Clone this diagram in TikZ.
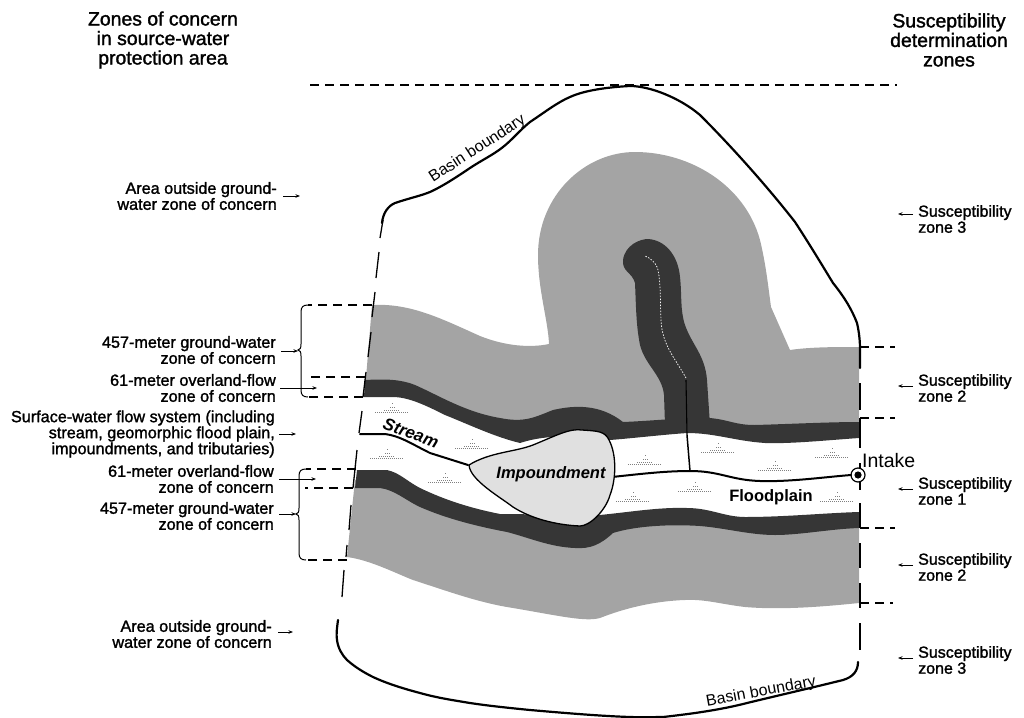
\documentclass[tikz,border=0pt]{standalone}
\usepackage{fontspec}
\setmainfont{Liberation Sans}
\newfontfamily\labf[FakeBold=1.5]{Liberation Sans}
\newfontfamily\boldf{Liberation Sans Bold}
\newfontfamily\boldif{Liberation Sans Bold Italic}
\newfontfamily\thinf{Liberation Sans}
\usetikzlibrary{arrows.meta}
\definecolor{lgray}{HTML}{A4A4A4}
\definecolor{dgray}{HTML}{363636}
\definecolor{igray}{HTML}{E0E0E0}
\tikzset{
 lab/.style={font=\labf\fontsize{16.2}{16}\selectfont,align=right,anchor=east,inner sep=0pt},
 rlab/.style={font=\labf\fontsize{16}{16}\selectfont,align=left,anchor=west,inner sep=0pt},
 head/.style={font=\labf\fontsize{19.4}{19.5}\selectfont,align=center,inner sep=0pt},
 outline/.style={line width=2.2pt,line join=round,line cap=round},
 stream/.style={line width=2pt,line join=round,line cap=round},
 dashln/.style={line width=1.1pt,dash pattern=on 9pt off 6pt},
 edgeln/.style={line width=1.3pt},
 arr/.style={line width=0.8pt,-{Stealth[length=4.5pt,width=3.5pt]}},
 marshln/.style={gray,line width=0.6pt,dash pattern=on 1pt off 1pt},
}
\newcommand{\marsh}[2]{%
 \draw[marshln] (#1-17,#2+2)--(#1+17,#2+2);
 \draw[marshln] (#1-8,#2)--(#1+8,#2);
 \draw[marshln] (#1-2,#2-3)--(#1+3,#2-3);
 \draw[marshln] (#1,#2-7)--(#1+1,#2-7);
}
\begin{document}
\begin{tikzpicture}[x=1pt,y=-1pt]
\useasboundingbox (0,0) rectangle (1024,717);
% upper light-gray zone
\fill[lgray] (372,305) .. controls (410,303) and (440,318) .. (480,336)
 .. controls (505,346) and (530,348) .. (549,344)
 .. controls (548,320) and (538,290) .. (538,255)
 .. controls (538,195) and (585,152) .. (635,152)
 .. controls (690,152) and (745,185) .. (760,240)
 .. controls (766,265) and (768,285) .. (771,307)
 -- (790,350) .. controls (810,347) and (835,347) .. (859,347)
 -- (859,430) -- (623,430) -- (510,425) -- (440,405) -- (400,390) -- (365,390) -- cycle;
% tributary dark band
\fill[dgray] (665,425) -- (664,395) .. controls (662,375) and (645,365) .. (640,345)
 .. controls (636,325) and (636,305) .. (635,283)
 .. controls (632,272) and (622,272) .. (623,260)
 .. controls (625,245) and (640,239) .. (648,239)
 .. controls (665,240) and (678,255) .. (680,277)
 .. controls (682,295) and (680,310) .. (685,325)
 .. controls (692,345) and (705,355) .. (707,380)
 -- (710,425) -- cycle;
% upper dark band
\fill[dgray] (365,380) .. controls (385,379) and (400,379) .. (415,385)
 .. controls (440,396) and (465,412) .. (500,418)
 .. controls (525,423) and (535,417) .. (553,410)
 .. controls (575,405) and (600,404) .. (623,422)
 .. controls (650,421) and (690,417) .. (710,418)
 .. controls (730,420) and (735,425) .. (755,425)
 .. controls (790,424) and (830,422) .. (859,422)
 -- (859,438) .. controls (830,440) and (790,444) .. (765,443)
 .. controls (735,441) and (715,433) .. (687,433)
 .. controls (660,435) and (635,438) .. (610,440)
 .. controls (600,441) and (560,430) .. (520,443)
 .. controls (495,437) and (470,425) .. (445,415)
 .. controls (425,405) and (410,398) .. (395,397)
 -- (364,397) -- cycle;
% lower light-gray zone
\fill[lgray] (355,480) -- (390,480) -- (420,497) -- (507,525) -- (600,525) -- (700,518) -- (859,520) -- (859,603)
 .. controls (820,607) and (780,610) .. (745,607)
 .. controls (720,604) and (705,599) .. (685,600)
 .. controls (655,601) and (625,608) .. (600,618)
 .. controls (585,622) and (560,616) .. (513,608)
 .. controls (480,603) and (450,592) .. (413,580)
 .. controls (395,573) and (370,560) .. (347,557) -- cycle;
% lower dark band
\fill[dgray] (357,470) -- (387,470) .. controls (400,473) and (405,480) .. (420,488)
 .. controls (445,500) and (470,508) .. (500,514)
 -- (600,515) .. controls (630,512) and (660,507) .. (687,508)
 .. controls (710,508) and (725,517) .. (745,517)
 .. controls (785,517) and (825,513) .. (859,512)
 -- (859,528) .. controls (830,529) and (800,535) .. (775,535)
 .. controls (750,535) and (725,528) .. (700,526)
 .. controls (670,524) and (635,526) .. (613,533)
 .. controls (600,545) and (590,549) .. (575,548)
 .. controls (550,547) and (530,538) .. (507,532)
 .. controls (475,526) and (445,518) .. (420,507)
 .. controls (405,500) and (395,490) .. (380,488)
 -- (355,488) -- cycle;
% streams
\draw[stream] (360,434) -- (385,434) .. controls (400,436) and (410,443) .. (430,453) -- (468,465);
\draw[stream] (612,477) .. controls (640,474) and (665,471) .. (690,471)
 .. controls (720,471) and (730,480) .. (760,481)
 .. controls (790,482) and (825,477) .. (851,475);
\draw[line width=1.5pt] (687,435) -- (690,471);
\draw[line width=1.1pt] (686,380) -- (687,435);
\draw[white,line width=0.7pt,dash pattern=on 1.5pt off 1.5pt] (686,378)
 .. controls (675,358) and (662,345) .. (661,320)
 .. controls (660,300) and (661,285) .. (658,270)
 .. controls (656,262) and (650,258) .. (645,256);
% impoundment
\filldraw[fill=igray,draw=black,line width=1.3pt,line join=round] (469,465)
 .. controls (490,452) and (515,452) .. (533,445)
 .. controls (555,436) and (570,428) .. (582,430)
 .. controls (597,431) and (605,431) .. (609,440)
 .. controls (617,455) and (616,480) .. (610,495)
 .. controls (606,510) and (590,526) .. (580,526)
 .. controls (555,525) and (530,518) .. (513,507)
 .. controls (500,497) and (470,480) .. (469,465) -- cycle;
\node[font=\boldif\fontsize{16.5}{18}\selectfont,inner sep=0pt] (imp) at (551,474) {Impoundment};
\node[font=\boldif\fontsize{17}{18}\selectfont,rotate=-20,inner sep=0pt] (strm) at (411,433) {Stream};
\node[font=\boldf\fontsize{16.5}{18}\selectfont,inner sep=0pt] (flood) at (771,497) {Floodplain};
% marsh symbols
\marsh{392}{410}\marsh{387}{456}\marsh{445}{480}\marsh{472}{446}
\marsh{645}{462}\marsh{718}{450}\marsh{775}{468}\marsh{832}{455}
\marsh{695}{489}\marsh{633}{499}\marsh{837}{499}
% basin boundary
\draw[outline] (382,223) .. controls (383,213) and (388,206) .. (395,203)
 .. controls (410,198) and (420,196) .. (430,192)
 .. controls (445,185) and (458,176) .. (470,168)
 .. controls (482,160) and (493,155) .. (503,147)
 .. controls (512,140) and (520,130) .. (530,122)
 .. controls (545,112) and (558,102) .. (570,97)
 .. controls (585,90) and (610,87) .. (630,86)
 .. controls (650,86) and (680,98) .. (700,115)
 .. controls (735,150) and (770,190) .. (795,222)
 .. controls (810,245) and (822,265) .. (833,283)
 .. controls (845,298) and (852,310) .. (857,323)
 .. controls (859,332) and (860,340) .. (860,350) -- (860,368);
\draw[outline] (338,620) .. controls (337,628) and (336,634) .. (337,640)
 .. controls (338,648) and (342,655) .. (347,660)
 .. controls (355,667) and (363,672) .. (373,677)
 .. controls (388,684) and (405,689) .. (420,693)
 .. controls (438,698) and (452,700) .. (470,703)
 .. controls (490,706) and (510,708) .. (530,710)
 .. controls (565,713) and (600,716) .. (630,717)
 .. controls (645,717.5) and (655,717) .. (663,717)
 .. controls (690,714) and (720,710) .. (747,703)
 .. controls (780,695) and (815,687) .. (843,680)
 .. controls (853,677) and (858,671) .. (858,662);
% dashed sides
\foreach \a/\b/\c/\d in {383/220/380/238,379/252/376/278,375/292/372/317,371/332/368/357,366/372/363/397,362/411/359/433,357/450/353/488,351/505/349/530,347/545/346/557,344/570/342/597}
 \draw[edgeln] (\a,\b)--(\c,\d);
\foreach \a/\b in {383/410,418/448,463/490,503/528,543/568,583/608,623/650}
 \draw[edgeln] (860,\a)--(860,\b);
% top dashed line and ticks
\coordinate (tl) at (310,85); \coordinate (tr) at (897,85);
\draw[dashln] (tl)--(tr);
\draw[dashln] (860,347)--(895,347);
\draw[dashln] (860,418)--(895,418);
\draw[dashln] (860,528)--(895,528);
\draw[dashln] (860,603)--(893,603);
\draw[dashln] (372,305)--(308,305);
\draw[dashln] (365,377)--(307,377);
\draw[dashln] (363,397)--(308,397);
\draw[dashln] (356,469)--(306,469);
\draw[dashln] (353,488)--(305,488);
\draw[dashln] (347,560)--(305,560);
% braces
\draw[line width=1pt] (308,305) .. controls (303,305) and (301,307) .. (301,312) -- (301,344)
 .. controls (301,348) and (300,350) .. (298,350)
 .. controls (300,350) and (301,352) .. (301,356) -- (301,390)
 .. controls (301,395) and (303,397) .. (308,397);
\draw[line width=1pt] (306,469) .. controls (301,469) and (299,471) .. (299,476) -- (299,508)
 .. controls (299,512) and (298,514) .. (296,514)
 .. controls (298,514) and (299,516) .. (299,520) -- (299,553)
 .. controls (299,558) and (301,560) .. (306,560);
% intake
\node[circle,draw=black,fill=white,line width=1.2pt,minimum size=14pt,inner sep=0pt] (intake) at (858,475) {};
\fill[black] (intake.center) circle (3.6pt);
\draw[stream] (851,475) -- (intake.west);
\node[font=\thinf\fontsize{19.5}{20}\selectfont,anchor=west,inner sep=0pt] (intl) at (862,461) {Intake};
% headers
\node[head] (h1) at (163,40) {Zones of concern\\in source-water\\protection area};
\node[head] (h2) at (949,40) {Susceptibility\\determination\\zones};
% rotated basin labels
\node[font=\thinf\fontsize{16}{16}\selectfont,rotate=33,inner sep=0pt] (bb1) at (477.5,149) {Basin boundary};
\node[font=\thinf\fontsize{16}{16}\selectfont,rotate=10.5,inner sep=0pt] (bb2) at (761,692) {Basin boundary};
% left labels
\node[lab] (l1) at (277,196) {Area outside ground-\\water zone of concern};
\node[lab] (l2) at (276,350) {457-meter ground-water\\zone of concern};
\node[lab] (l3) at (276,388) {61-meter overland-flow\\zone of concern};
\node[lab] (l4) at (275,434) {Surface-water flow system (including\\stream, geomorphic flood plain,\\impoundments, and tributaries)};
\node[lab] (l5) at (274,479) {61-meter overland-flow\\zone of concern};
\node[lab] (l6) at (274,516) {457-meter ground-water\\zone of concern};
\node[lab] (l7) at (272,634) {Area outside ground-\\water zone of concern};
\coordinate (a1) at (300,196); \coordinate (a2) at (298,351); \coordinate (a3) at (317,388);
\coordinate (a4) at (296,434); \coordinate (a5) at (316,479); \coordinate (a6) at (296,514);
\coordinate (a7) at (293,632);
\draw[arr] (283,196)--(a1);
\draw[arr] (281,351)--(a2);
\draw[arr] (280,388)--(a3);
\draw[arr] (279,434)--(a4);
\draw[arr] (279,479)--(a5);
\draw[arr] (279,514)--(a6);
\draw[arr] (278,632)--(a7);
% right labels
\node[rlab] (r1) at (918,219) {Susceptibility\\zone 3};
\node[rlab] (r2) at (918,388) {Susceptibility\\zone 2};
\node[rlab] (r3) at (918,491) {Susceptibility\\zone 1};
\node[rlab] (r4) at (918,567) {Susceptibility\\zone 2};
\node[rlab] (r5) at (918,660) {Susceptibility\\zone 3};
\draw[arr] (r1.west |- 0,214) ++(-5,0) -- ++(-15,0);
\draw[arr] (r2.west |- 0,386) ++(-5,0) -- ++(-15,0);
\draw[arr] (r3.west |- 0,489) ++(-5,0) -- ++(-15,0);
\draw[arr] (r4.west |- 0,565) ++(-5,0) -- ++(-15,0);
\draw[arr] (r5.west |- 0,658) ++(-5,0) -- ++(-15,0);
\end{tikzpicture}
\end{document}
